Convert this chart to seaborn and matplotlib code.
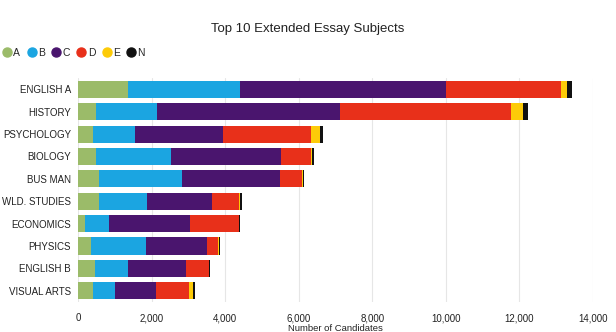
import matplotlib
matplotlib.use("Agg")
import matplotlib.pyplot as plt
from matplotlib.lines import Line2D
import seaborn as sns
import pandas as pd
import numpy as np

subjects = ["ENGLISH A", "HISTORY", "PSYCHOLOGY", "BIOLOGY", "BUS MAN",
            "WLD. STUDIES", "ECONOMICS", "PHYSICS", "ENGLISH B", "VISUAL ARTS"]
grades = ["A", "B", "C", "D", "E", "N"]
A = [1350, 480, 410, 480, 580, 580, 200, 345, 455, 420]
B = [3060, 1660, 1140, 2060, 2240, 1305, 635, 1510, 905, 595]
C = [5580, 4970, 2380, 2980, 2670, 1750, 2200, 1640, 1565, 1115]
D = [3140, 4650, 2410, 810, 610, 730, 1330, 320, 635, 880]
E = [150, 325, 250, 20, 10, 45, 10, 10, 10, 115]
N = [140, 145, 65, 60, 35, 45, 40, 30, 30, 65]
colors = ["#9BBB69", "#1BA5E1", "#4A156E", "#E8301A", "#FDCB08", "#111111"]

series = [A, B, C, D, E, N]
cum = np.cumsum(np.array(series), axis=0)

sns.set_theme(style="white")
plt.rcParams['font.family'] = ['Liberation Sans', 'DejaVu Sans']

fig = plt.figure(figsize=(6.16, 3.32), dpi=100)
ax = fig.add_axes([0.1266, 0.0904, 0.8361, 0.6746])

for i in range(len(grades) - 1, -1, -1):
    df = pd.DataFrame({"subject": subjects, "value": cum[i]})
    sns.barplot(data=df, y="subject", x="value", orient="h", color=colors[i],
                saturation=1, width=0.76, ax=ax, order=subjects, linewidth=0)

ax.set_xlim(0, 14000)
ax.set_ylim(9.5, -0.5)
ax.set_xticks(range(0, 14001, 2000))
ax.set_xticklabels([f"{v:,}" for v in range(0, 14001, 2000)], fontsize=7, color="#222222")
ax.tick_params(axis="y", labelsize=7, colors="#222222", length=0, pad=5)
ax.tick_params(axis="x", length=0, pad=8)
ax.set_ylabel("")
ax.set_xlabel("Number of Candidates", fontsize=6.8, color="#222222", labelpad=1)
ax.grid(axis="x", color="#E6E6E6", linewidth=0.8)
ax.set_axisbelow(True)
for s in ax.spines.values():
    s.set_visible(False)

fig.text(0.5, 0.913, "Top 10 Extended Essay Subjects", ha="center", va="center",
         fontsize=9.5, color="#222222")

handles = [Line2D([0], [0], marker="o", linestyle="", markersize=6.5,
                  markerfacecolor=c, markeredgecolor=c) for c in colors]
fig.legend(handles, grades, loc="center left", bbox_to_anchor=(-0.002, 0.84),
           ncol=6, frameon=False, fontsize=7.5, handletextpad=0.2,
           columnspacing=0.7, handlelength=0.8, borderaxespad=0)

fig.savefig("out.png", dpi=100)
